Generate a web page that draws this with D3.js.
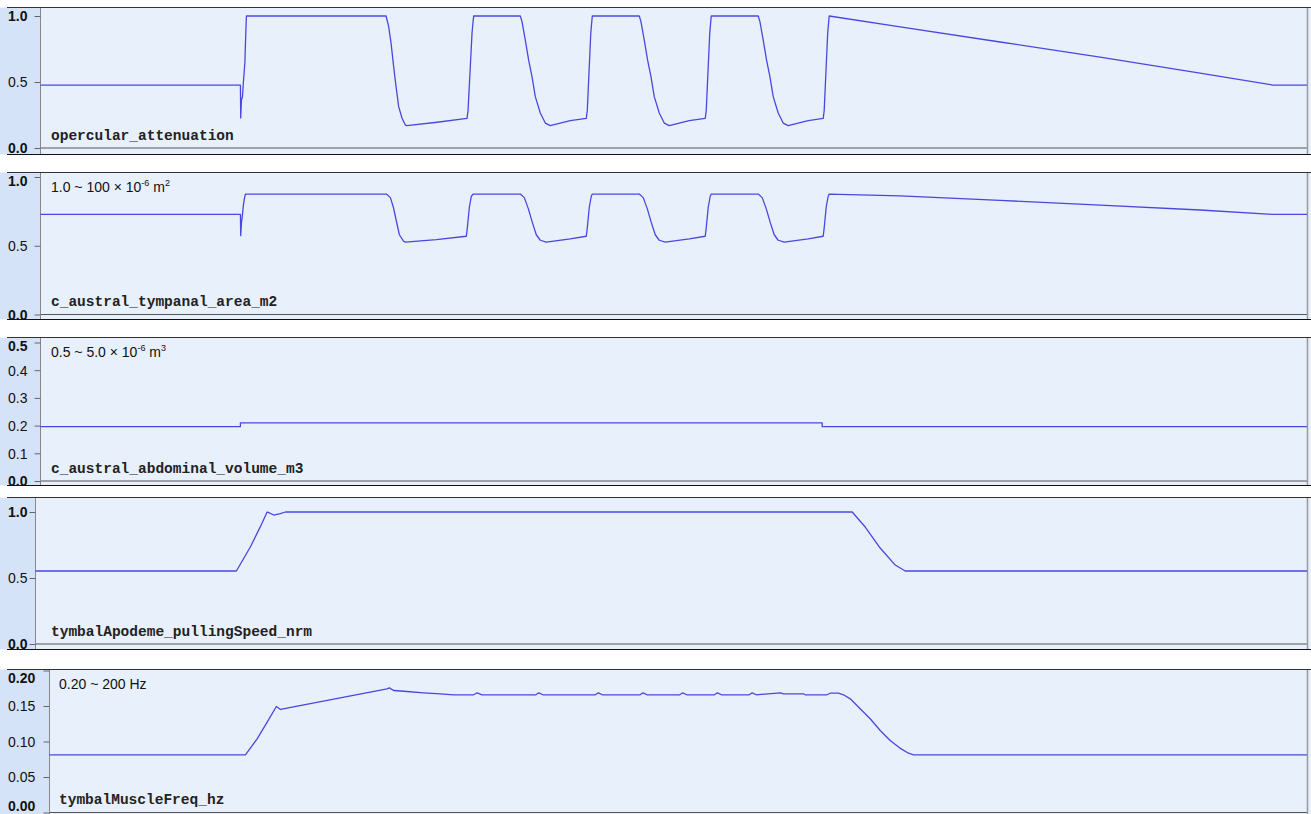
<!DOCTYPE html>
<html><head><meta charset="utf-8">
<script src="https://cdn.jsdelivr.net/npm/d3@7"></script>
<style>
body{margin:0;background:#fff;}
svg{display:block;}
</style></head>
<body><svg id="chart" width="1311" height="814"></svg>
<script>
// time axis shared by every trace (seconds)
const timeDomain = [0, 12.67];

// opercular_attenuation
const operT = [0, 2.00, 2.003, 2.01, 2.02, 2.03, 2.045, 2.053, 2.06, 3.457, 3.483, 3.507, 3.533, 3.557, 3.583, 3.617, 3.65, 3.667, 3.967, 4.267, 4.277, 4.30, 4.317, 4.333,
  4.80, 4.817, 4.85, 4.883, 4.917, 4.95, 5.00, 5.05, 5.10, 5.30, 5.46, 5.47, 5.49, 5.505, 5.52,
  5.99, 6.007, 6.04, 6.073, 6.107, 6.14, 6.19, 6.24, 6.29, 6.49, 6.65, 6.66, 6.68, 6.695, 6.71,
  7.18, 7.197, 7.23, 7.263, 7.297, 7.33, 7.38, 7.43, 7.48, 7.68, 7.83, 7.84, 7.86, 7.875, 7.89,
  8.6, 9.6, 10.6, 11.6, 12.33, 12.67];
const operV = [0.477, 0.477, 0.227, 0.364, 0.386, 0.5, 0.652, 0.856, 1.0, 1.0, 0.919, 0.795, 0.616, 0.465, 0.313, 0.225, 0.174, 0.169, 0.195, 0.225, 0.283, 0.619, 0.871, 1.0,
  1.0, 0.957, 0.818, 0.667, 0.54, 0.389, 0.265, 0.189, 0.169, 0.207, 0.225, 0.283, 0.62, 0.87, 1.0,
  1.0, 0.957, 0.818, 0.667, 0.54, 0.389, 0.265, 0.189, 0.169, 0.207, 0.225, 0.283, 0.62, 0.87, 1.0,
  1.0, 0.957, 0.818, 0.667, 0.54, 0.389, 0.265, 0.189, 0.169, 0.207, 0.225, 0.283, 0.62, 0.87, 1.0,
  0.917, 0.803, 0.689, 0.568, 0.477, 0.477];

// c_austral_tympanal_area_m2
const areaT = [0, 2.00, 2.003, 2.01, 2.02, 2.03, 2.04, 2.05, 3.46, 3.50, 3.53, 3.56, 3.59, 3.63, 3.65, 3.96, 4.26, 4.27, 4.29, 4.31, 4.33,
  4.80, 4.84, 4.88, 4.92, 4.96, 5.00, 5.06, 5.30, 5.46, 5.47, 5.49, 5.51, 5.52,
  5.99, 6.03, 6.07, 6.11, 6.15, 6.19, 6.25, 6.49, 6.65, 6.66, 6.68, 6.70, 6.71,
  7.18, 7.22, 7.26, 7.30, 7.34, 7.38, 7.44, 7.68, 7.83, 7.84, 7.86, 7.88, 7.89,
  8.6, 9.6, 10.6, 11.6, 12.33, 12.67];
const areaV = [0.728, 0.728, 0.573, 0.664, 0.723, 0.796, 0.845, 0.876, 0.876, 0.85, 0.78, 0.68, 0.58, 0.535, 0.526, 0.545, 0.569, 0.63, 0.78, 0.86, 0.876,
  0.876, 0.85, 0.77, 0.67, 0.58, 0.54, 0.526, 0.55, 0.569, 0.63, 0.78, 0.86, 0.876,
  0.876, 0.85, 0.77, 0.67, 0.58, 0.54, 0.526, 0.55, 0.569, 0.63, 0.78, 0.86, 0.876,
  0.876, 0.85, 0.77, 0.67, 0.58, 0.54, 0.526, 0.55, 0.569, 0.63, 0.78, 0.86, 0.876,
  0.862, 0.830, 0.795, 0.760, 0.728, 0.728];

// c_austral_abdominal_volume_m3
const volT = [0, 2.00, 2.00, 7.82, 7.82, 12.67];
const volV = [0.196, 0.196, 0.21, 0.21, 0.196, 0.196];

// tymbalApodeme_pullingSpeed_nrm
const speedT = [0, 2.002, 2.142, 2.241, 2.308, 2.324, 2.374, 2.440, 2.490, 8.138, 8.268, 8.417, 8.567, 8.666, 12.67];
const speedV = [0.553, 0.553, 0.737, 0.889, 1.0, 0.995, 0.977, 0.987, 1.0, 1.0, 0.886, 0.727, 0.598, 0.553, 0.553];

// tymbalMuscleFreq_hz
const freqT = [0, 1.974, 2.092, 2.193, 2.286, 2.327, 3.401, 3.424, 3.468, 3.603, 3.767, 3.938, 4.072, 4.274, 4.308, 4.358,
  4.90, 4.93, 4.97, 5.10, 5.50, 5.53, 5.57, 5.95, 5.98, 6.02, 6.35, 6.38, 6.42, 6.70, 6.73, 6.77, 7.05, 7.08, 7.12,
  7.363, 7.396, 7.597, 7.614, 7.833, 7.866, 7.950, 8.0, 8.068, 8.168, 8.269, 8.370, 8.470, 8.565, 8.655, 8.705, 12.67];
const freqV = [0.0813, 0.0813, 0.1038, 0.1272, 0.1493, 0.1451, 0.1742, 0.1756, 0.1718, 0.1704, 0.1686, 0.1672, 0.1658, 0.1658, 0.1686, 0.1658,
  0.1658, 0.1686, 0.1658, 0.1658, 0.1658, 0.1686, 0.1658, 0.1658, 0.1686, 0.1658, 0.1658, 0.1686, 0.1658, 0.1658, 0.1686, 0.1658, 0.1658, 0.1686, 0.1658,
  0.1686, 0.1672, 0.1672, 0.1658, 0.1658, 0.168, 0.168, 0.1658, 0.1601, 0.1461, 0.132, 0.1155, 0.1014, 0.0911, 0.0835, 0.0813, 0.0813];

// y-axis ticks
const operTicks = [0, 0.5, 1.0];
const areaTicks = [0, 0.5, 1.0];
const volTicks = [0, 0.1, 0.2, 0.3, 0.4, 0.5];
const speedTicks = [0, 0.5, 1.0];
const freqTicks = [0, 0.05, 0.10, 0.15, 0.20];

const traceNames = ["opercular_attenuation", "c_austral_tympanal_area_m2", "c_austral_abdominal_volume_m3",
  "tymbalApodeme_pullingSpeed_nrm", "tymbalMuscleFreq_hz"];

// panel geometry (pixels)
const W = 1311, H = 814, plotRight = 1307;
const panels = [
  { name: traceNames[0], t: operT, v: operV, ticks: operTicks, fmt: ".1f", domain: [0, 1.0],
    top: 7.5, bottom: 154.5, left: 40.5, y0: 148, y1: 16, note: null, nameX: 51 },
  { name: traceNames[1], t: areaT, v: areaV, ticks: areaTicks, fmt: ".1f", domain: [0, 1.0],
    top: 172.5, bottom: 319.5, left: 40.5, y0: 314.5, y1: 177, nameX: 51,
    note: [["1.0 ~ 100 × 10", 0], ["-6", 1], [" m", 0], ["2", 1]] },
  { name: traceNames[2], t: volT, v: volV, ticks: volTicks, fmt: ".1f", domain: [0, 0.5],
    top: 337.5, bottom: 485.5, left: 40.5, y0: 481, y1: 342.5, nameX: 51,
    note: [["0.5 ~ 5.0 × 10", 0], ["-6", 1], ["  m", 0], ["3", 1]] },
  { name: traceNames[3], t: speedT, v: speedV, ticks: speedTicks, fmt: ".1f", domain: [0, 1.0],
    top: 497.5, bottom: 649.5, left: 35.5, y0: 644, y1: 512, nameX: 51, note: null },
  { name: traceNames[4], t: freqT, v: freqV, ticks: freqTicks, fmt: ".2f", domain: [0, 0.20],
    top: 669.5, bottom: 818, left: 49.5, y0: 812.5, y1: 670.5, nameX: 59,
    note: [["0.20 ~ 200 Hz", 0]] }
];

const svg = d3.select("#chart");

panels.forEach(p => {
  const g = svg.append("g");
  const x = d3.scaleLinear().domain(timeDomain).range([p.left, plotRight]);
  const y = d3.scaleLinear().domain(p.domain).range([p.y0, p.y1]);

  // left label strip and plot background
  g.append("rect").attr("x", 0).attr("y", p.top).attr("width", p.left).attr("height", p.bottom - p.top)
    .attr("fill", "#d5e3f8");
  g.append("rect").attr("x", p.left).attr("y", p.top).attr("width", W - p.left).attr("height", p.bottom - p.top)
    .attr("fill", "#e8f0fc");

  // zero line and right edge
  g.append("line").attr("x1", p.left).attr("x2", plotRight).attr("y1", p.y0).attr("y2", p.y0)
    .attr("stroke", "#555").attr("stroke-width", 1);
  g.append("line").attr("x1", plotRight + 0.5).attr("x2", plotRight + 0.5).attr("y1", p.top).attr("y2", p.bottom)
    .attr("stroke", "#9a9a9a").attr("stroke-width", 1.5);

  // y axis
  const axis = d3.axisLeft(y).tickValues(p.ticks).tickSize(6).tickSizeOuter(0)
    .tickFormat(d3.format(p.fmt));
  const ag = g.append("g").attr("transform", `translate(${p.left},0)`).call(axis);
  ag.select(".domain").attr("stroke", "#888").attr("d", `M0,${p.top}V${p.bottom}`);
  ag.selectAll(".tick line").attr("stroke", "#666");
  const lo = p.domain[0], hi = p.domain[1];
  ag.selectAll(".tick text")
    .attr("x", 8 - p.left)
    .attr("text-anchor", "start")
    .attr("dy", "0.35em")
    .attr("fill", "#111")
    .style("font-family", "'Liberation Sans', Arial, sans-serif")
    .style("font-size", "14px")
    .style("font-weight", d => (d === lo || d === hi) ? "bold" : "normal")
    .attr("y", d => {
      const yy = y(d);
      return Math.min(Math.max(yy, p.top + 8.5), H - 8) - yy;
    });

  // trace
  const pts = p.t.map((t, i) => [t, p.v[i]]);
  const line = d3.line().x(d => x(d[0])).y(d => y(d[1]));
  g.append("path").datum(pts).attr("d", line)
    .attr("fill", "none").attr("stroke", "#4848de").attr("stroke-width", 1.3)
    .attr("stroke-linejoin", "round");

  // borders
  g.append("line").attr("x1", 7).attr("x2", W).attr("y1", p.top).attr("y2", p.top)
    .attr("stroke", "#333").attr("stroke-width", 1.2);
  g.append("line").attr("x1", 7).attr("x2", W).attr("y1", p.bottom).attr("y2", p.bottom)
    .attr("stroke", "#111").attr("stroke-width", 1.2);

  // trace name
  g.append("text").attr("x", p.nameX).attr("y", p.y0 - 8.5)
    .style("font-family", "'Liberation Mono', 'Courier New', monospace")
    .style("font-weight", "bold").style("font-size", "14.5px").attr("fill", "#222")
    .text(p.name);

  // scale note
  if (p.note) {
    const tx = g.append("text").attr("x", p.nameX).attr("y", p.top + 19)
      .style("font-family", "'Liberation Sans', Arial, sans-serif")
      .style("font-size", "14px").attr("fill", "#111");
    p.note.forEach(([s, sup], i) => {
      const ts = tx.append("tspan").text(s);
      if (sup) ts.attr("dy", "-6").style("font-size", "9px");
      else if (i > 0) ts.attr("dy", "6");
    });
  }
});
</script>
</body></html>
